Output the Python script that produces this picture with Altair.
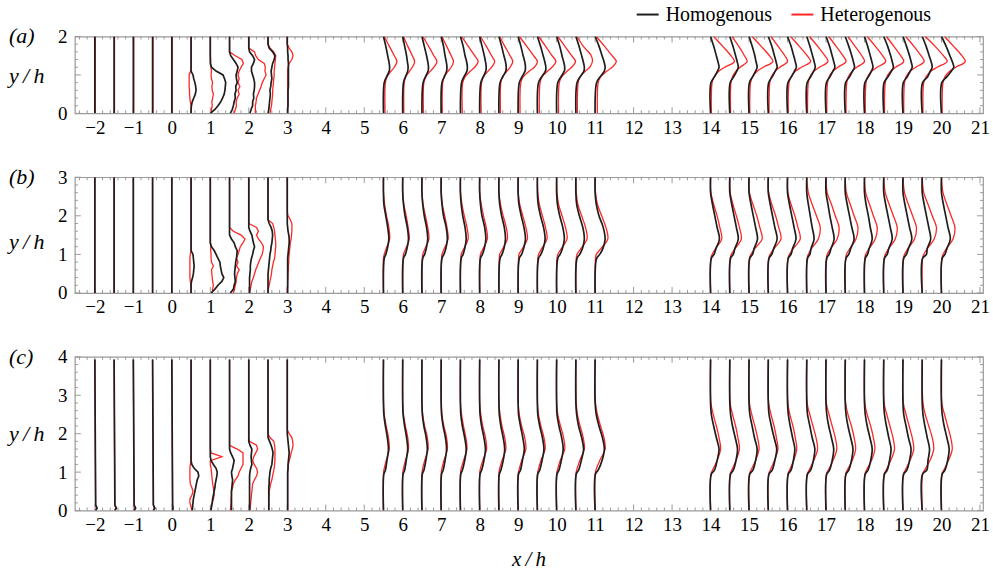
import altair as alt
import pandas as pd

# ---------------- stations (x/h positions of the profiles) ----------------
UP_ST = [-2, -1.5, -1, -0.5, 0]
NEAR_ST = [0.5, 1, 1.5, 2, 2.5, 3]
FAR1_ST = [5.5, 6, 6.5, 7, 7.5, 8, 8.5, 9, 9.5, 10, 10.5, 11]
FAR2_ST = [14, 14.5, 15, 15.5, 16, 16.5, 17, 17.5, 18, 18.5, 19, 19.5, 20]
X_TICK_LABELS = list(range(-2, 22))
SERIES = ["Homogenous", "Heterogenous"]

# ---------------- panel (a): y/h in [0, 2] ----------------
A_UP_Y = [0, 2.0]
A_UP_BLACK = [[0, 0], [0, 0], [0, 0], [0, 0], [0, 0]]
A_UP_RED = [[0.01, 0.01], [0.01, 0.01], [0.01, 0.01], [0.01, 0.01], [0.01, 0.01]]
A_NEAR_Y = [0, 0.1, 0.2, 0.3, 0.4, 0.5, 0.6, 0.7, 0.8, 0.9, 1.0, 1.1, 1.2, 1.3, 1.4, 1.5, 1.6, 1.7, 1.8, 1.9, 2.0]
A_NEAR_BLACK = [
    [0, 0, 0.01, 0.03, 0.07, 0.11, 0.13, 0.12, 0.10, 0.07, 0.05, 0, 0, 0, 0, 0, 0, 0, 0, 0, 0],
    [0, 0.12, 0.2, 0.27, 0.32, 0.36, 0.38, 0.39, 0.40, 0.37, 0.33, 0.15, 0.03, 0, 0, 0, 0, 0, 0, 0, 0],
    [0.02, 0.07, 0.1, 0.12, 0.15, 0.14, 0.17, 0.16, 0.2, 0.18, 0.17, 0.2, 0.22, 0.17, 0.1, 0.03, 0, 0, 0, 0, 0],
    [0.03, 0.06, 0.1, 0.1, 0.13, 0.12, 0.14, 0.15, 0.15, 0.13, 0.1, 0.07, 0.07, 0.12, 0.15, 0.1, 0.02, 0, 0, 0, 0],
    [0, 0.02, 0.03, 0.04, 0.05, 0.06, 0.05, 0.07, 0.08, 0.1, 0.09, 0.08, 0.1, 0.12, 0.16, 0.18, 0.12, 0.03, 0, 0, 0],
    [0.01, 0.01, 0.02, 0.02, 0.02, 0.02, 0.02, 0.03, 0.03, 0.03, 0.03, 0.03, 0.03, 0.03, 0.02, 0.02, 0.01, 0.01, 0, 0, 0],
]
A_NEAR_RED = [
    [0, 0, 0, -0.02, -0.03, -0.04, -0.04, -0.05, -0.05, -0.05, -0.05, -0.01, 0, 0, 0, 0, 0, 0, 0, 0, 0],
    [0.03, 0.03, 0.05, 0.04, 0.06, 0.08, 0.05, 0.04, 0.06, 0.03, 0.02, 0.03, 0.02, 0.01, 0.01, 0, 0, 0, 0, 0, 0],
    [0.12, 0.15, 0.18, 0.17, 0.2, 0.25, 0.22, 0.27, 0.22, 0.25, 0.22, 0.25, 0.3, 0.36, 0.32, 0.15, 0, 0, 0, 0, 0],
    [0.17, 0.17, 0.17, 0.19, 0.2, 0.24, 0.28, 0.32, 0.35, 0.4, 0.45, 0.42, 0.43, 0.4, 0.25, 0.18, 0.15, 0, 0, 0, 0],
    [0.05, 0.07, 0.09, 0.1, 0.11, 0.12, 0.12, 0.13, 0.14, 0.15, 0.16, 0.16, 0.17, 0.18, 0.19, 0.2, 0.15, 0.05, 0, 0, 0],
    [0.01, 0.01, 0.01, 0.01, 0.01, 0.01, 0.01, 0.01, 0.01, 0.01, 0.01, 0.01, 0.02, 0.05, 0.12, 0.15, 0.12, 0.05, 0, 0, 0],
]
A_FAR_Y = [0, 0.8, 0.95, 1.1, 1.2, 1.35, 1.5, 1.75, 2.0]
A_FAR1_BLACK = [
    [0, 0.02, 0.08, 0.15, 0.16, 0.14, 0.11, 0.06, 0],
    [0, 0.02, 0.07, 0.13, 0.14, 0.12, 0.10, 0.05, 0],
    [0, 0.03, 0.09, 0.16, 0.17, 0.15, 0.12, 0.06, 0],
    [0, 0.02, 0.08, 0.14, 0.15, 0.13, 0.10, 0.06, 0],
    [0, 0.03, 0.09, 0.17, 0.18, 0.16, 0.12, 0.07, 0],
    [0, 0.03, 0.09, 0.16, 0.17, 0.15, 0.12, 0.06, 0],
    [0, 0.03, 0.10, 0.18, 0.19, 0.17, 0.13, 0.07, 0],
    [0, 0.03, 0.10, 0.18, 0.19, 0.17, 0.13, 0.07, 0],
    [0, 0.03, 0.11, 0.21, 0.22, 0.19, 0.15, 0.08, 0],
    [0, 0.03, 0.11, 0.20, 0.21, 0.18, 0.14, 0.08, 0],
    [0, 0.03, 0.11, 0.21, 0.22, 0.19, 0.15, 0.08, 0],
    [0, 0.04, 0.13, 0.24, 0.26, 0.23, 0.18, 0.10, 0],
]
A_FAR1_RED = [
    [0.04, 0.05, 0.09, 0.20, 0.28, 0.35, 0.28, 0.15, 0.02],
    [0.03, 0.04, 0.08, 0.18, 0.25, 0.31, 0.25, 0.13, 0.02],
    [0.04, 0.05, 0.10, 0.22, 0.31, 0.39, 0.31, 0.17, 0.02],
    [0.03, 0.04, 0.08, 0.18, 0.26, 0.32, 0.26, 0.14, 0.02],
    [0.05, 0.06, 0.12, 0.26, 0.37, 0.46, 0.37, 0.20, 0.03],
    [0.04, 0.05, 0.10, 0.22, 0.31, 0.39, 0.31, 0.17, 0.02],
    [0.04, 0.05, 0.09, 0.21, 0.29, 0.36, 0.29, 0.15, 0.02],
    [0.05, 0.07, 0.13, 0.29, 0.42, 0.50, 0.40, 0.22, 0.03],
    [0.05, 0.07, 0.12, 0.27, 0.38, 0.48, 0.38, 0.21, 0.03],
    [0.05, 0.07, 0.13, 0.28, 0.39, 0.49, 0.39, 0.21, 0.03],
    [0.04, 0.06, 0.11, 0.25, 0.36, 0.43, 0.40, 0.19, 0.03],
    [0.06, 0.08, 0.14, 0.31, 0.44, 0.55, 0.44, 0.24, 0.03],
]
A_FAR2_BLACK = [
    [0, 0.01, 0.10, 0.18, 0.22, 0.19, 0.15, 0.08, 0],
    [0, 0.01, 0.10, 0.18, 0.22, 0.19, 0.15, 0.08, 0],
    [0, 0.01, 0.09, 0.17, 0.21, 0.18, 0.15, 0.08, 0],
    [0, 0.01, 0.10, 0.18, 0.23, 0.20, 0.16, 0.09, 0],
    [0, 0.01, 0.10, 0.18, 0.23, 0.20, 0.16, 0.09, 0],
    [0, 0.01, 0.10, 0.18, 0.22, 0.19, 0.15, 0.08, 0],
    [0, 0.01, 0.10, 0.18, 0.23, 0.20, 0.16, 0.09, 0],
    [0, 0.01, 0.11, 0.19, 0.24, 0.21, 0.17, 0.09, 0],
    [0, 0.01, 0.10, 0.18, 0.22, 0.19, 0.15, 0.08, 0],
    [0, 0.01, 0.11, 0.20, 0.25, 0.22, 0.18, 0.10, 0],
    [0, 0.01, 0.11, 0.19, 0.24, 0.21, 0.17, 0.09, 0],
    [0, 0.01, 0.14, 0.21, 0.26, 0.23, 0.18, 0.10, 0],
    [0, 0.01, 0.14, 0.26, 0.32, 0.28, 0.22, 0.12, 0],
]
A_FAR2_RED = [
    [0.02, 0.04, 0.09, 0.22, 0.37, 0.62, 0.53, 0.31, 0.08],
    [0.02, 0.03, 0.07, 0.16, 0.27, 0.45, 0.38, 0.23, 0.06],
    [0.02, 0.04, 0.09, 0.22, 0.37, 0.62, 0.53, 0.31, 0.08],
    [0.02, 0.04, 0.08, 0.18, 0.30, 0.50, 0.43, 0.25, 0.07],
    [0.02, 0.04, 0.09, 0.21, 0.36, 0.60, 0.51, 0.30, 0.08],
    [0.02, 0.04, 0.08, 0.19, 0.33, 0.55, 0.47, 0.28, 0.07],
    [0.02, 0.04, 0.08, 0.18, 0.31, 0.52, 0.44, 0.26, 0.07],
    [0.02, 0.04, 0.08, 0.18, 0.30, 0.50, 0.43, 0.25, 0.07],
    [0.02, 0.04, 0.08, 0.19, 0.33, 0.55, 0.47, 0.28, 0.07],
    [0.02, 0.04, 0.08, 0.18, 0.31, 0.52, 0.44, 0.26, 0.07],
    [0.02, 0.04, 0.08, 0.19, 0.33, 0.55, 0.47, 0.28, 0.07],
    [0.02, 0.04, 0.10, 0.23, 0.39, 0.65, 0.55, 0.33, 0.08],
    [0.02, 0.04, 0.09, 0.22, 0.37, 0.62, 0.53, 0.31, 0.08],
]

# ---------------- panel (b): y/h in [0, 3] ----------------
B_UP_Y = [0, 3.0]
B_UP_BLACK = [[0, 0], [0, 0], [0, 0], [0, 0], [0, 0]]
B_UP_RED = [[0.0, 0.0], [0.0, 0.0], [0.0, 0.0], [0.0, 0.0], [0.0, 0.0]]
B_NEAR_Y = [0, 0.1, 0.2, 0.3, 0.4, 0.5, 0.6, 0.7, 0.8, 0.9, 1.0, 1.1, 1.2, 1.3, 1.4, 1.5, 1.6, 1.7, 1.8, 1.9, 2.0, 2.1, 3.0]
B_NEAR_BLACK = [
    [0, 0, 0, 0.01, 0.04, 0.06, 0.07, 0.08, 0.07, 0.06, 0.05, 0, 0, 0, 0, 0, 0, 0, 0, 0, 0, 0, 0],
    [0.02, 0.12, 0.2, 0.3, 0.35, 0.3, 0.28, 0.26, 0.25, 0.2, 0.15, 0.1, 0.03, 0, 0, 0, 0, 0, 0, 0, 0, 0, 0],
    [0.02, 0.1, 0.12, 0.15, 0.14, 0.13, 0.14, 0.15, 0.16, 0.18, 0.19, 0.2, 0.15, 0.12, 0.05, 0, 0, 0, 0, 0, 0, 0, 0],
    [0.02, 0.02, 0.02, 0.02, 0.02, 0.03, 0.04, 0.04, 0.05, 0.07, 0.1, 0.12, 0.15, 0.12, 0.1, 0.08, 0.03, 0, 0, 0, 0, 0, 0],
    [0, 0, 0, 0, 0, 0, 0.01, 0.02, 0.03, 0.04, 0.05, 0.07, 0.08, 0.1, 0.11, 0.12, 0.11, 0.08, 0.03, 0, 0, 0, 0],
    [0.01, 0.01, 0.01, 0.01, 0.01, 0.01, 0.01, 0.01, 0.01, 0.01, 0.02, 0.03, 0.04, 0.05, 0.05, 0.04, 0.02, 0.01, 0, 0, 0, 0, 0],
]
B_NEAR_RED = [
    [0, 0, 0, -0.02, -0.03, -0.03, -0.03, -0.03, -0.03, -0.03, -0.02, 0, 0, 0, 0, 0, 0, 0, 0, 0, 0, 0, 0],
    [0.05, 0.06, 0.08, 0.06, 0.05, 0.04, 0.03, 0.08, 0.03, 0.02, 0.02, 0.01, 0.01, 0, 0, 0, 0, 0, 0, 0, 0, 0, 0],
    [0.1, 0.13, 0.15, 0.17, 0.18, 0.2, 0.25, 0.18, 0.22, 0.18, 0.22, 0.25, 0.28, 0.35, 0.4, 0.3, 0.1, 0, 0, 0, 0, 0, 0],
    [0.02, 0.04, 0.06, 0.08, 0.12, 0.15, 0.18, 0.22, 0.26, 0.3, 0.35, 0.37, 0.38, 0.33, 0.25, 0.2, 0.25, 0.2, 0, 0, 0, 0, 0],
    [0, 0.01, 0.03, 0.05, 0.07, 0.09, 0.1, 0.12, 0.14, 0.17, 0.18, 0.19, 0.2, 0.2, 0.19, 0.18, 0.17, 0.15, 0.12, 0, 0, 0, 0],
    [0, 0, 0.01, 0.01, 0.02, 0.02, 0.03, 0.03, 0.04, 0.04, 0.05, 0.06, 0.07, 0.08, 0.1, 0.11, 0.12, 0.12, 0.12, 0.08, 0.02, 0, 0],
]
B_FAR_Y = [0, 0.9, 1.0, 1.15, 1.4, 1.7, 2.0, 2.3, 2.6, 3.0]
B_FAR1_BLACK = [
    [0, 0.02, 0.06, 0.10, 0.14, 0.11, 0.06, 0.01, 0, 0],
    [0, 0.02, 0.07, 0.11, 0.15, 0.12, 0.06, 0.02, 0, 0],
    [0, 0.02, 0.07, 0.11, 0.15, 0.12, 0.06, 0.02, 0, 0],
    [0, 0.02, 0.07, 0.12, 0.16, 0.13, 0.06, 0.02, 0, 0],
    [0, 0.02, 0.07, 0.11, 0.15, 0.12, 0.06, 0.02, 0, 0],
    [0, 0.02, 0.07, 0.12, 0.16, 0.13, 0.06, 0.02, 0, 0],
    [0, 0.03, 0.08, 0.13, 0.17, 0.14, 0.07, 0.02, 0, 0],
    [0, 0.03, 0.09, 0.14, 0.19, 0.15, 0.08, 0.02, 0, 0],
    [0, 0.03, 0.09, 0.15, 0.20, 0.16, 0.08, 0.02, 0, 0],
    [0, 0.03, 0.09, 0.15, 0.20, 0.16, 0.08, 0.02, 0, 0],
    [0, 0.03, 0.10, 0.17, 0.22, 0.18, 0.09, 0.02, 0, 0],
    [0, 0.04, 0.12, 0.20, 0.26, 0.21, 0.10, 0.03, 0, 0],
]
B_FAR1_RED = [
    [0, 0.0, 0.02, 0.07, 0.16, 0.14, 0.08, 0.03, 0, 0],
    [0, 0.01, 0.02, 0.08, 0.17, 0.14, 0.09, 0.03, 0, 0],
    [0, 0.01, 0.02, 0.08, 0.18, 0.15, 0.09, 0.03, 0, 0],
    [0, 0.01, 0.02, 0.08, 0.18, 0.15, 0.09, 0.03, 0, 0],
    [0, 0.01, 0.02, 0.09, 0.20, 0.17, 0.10, 0.04, 0, 0],
    [0, 0.01, 0.02, 0.09, 0.20, 0.17, 0.10, 0.04, 0, 0],
    [0, 0.01, 0.02, 0.10, 0.22, 0.19, 0.11, 0.04, 0, 0],
    [0, 0.01, 0.02, 0.11, 0.24, 0.20, 0.12, 0.04, 0, 0],
    [0, 0.01, 0.03, 0.11, 0.25, 0.21, 0.13, 0.05, 0.01, 0],
    [0, 0.01, 0.03, 0.12, 0.27, 0.23, 0.14, 0.05, 0.01, 0],
    [0, 0.01, 0.03, 0.13, 0.29, 0.25, 0.15, 0.05, 0.01, 0],
    [0, 0.01, 0.03, 0.15, 0.33, 0.28, 0.17, 0.06, 0.01, 0],
]
B_FAR2_BLACK = [
    [0, 0.02, 0.09, 0.14, 0.23, 0.17, 0.11, 0.05, 0, 0],
    [0, 0.02, 0.09, 0.13, 0.22, 0.17, 0.11, 0.05, 0, 0],
    [0, 0.02, 0.09, 0.13, 0.22, 0.17, 0.11, 0.05, 0, 0],
    [0, 0.02, 0.09, 0.14, 0.23, 0.17, 0.11, 0.05, 0, 0],
    [0, 0.02, 0.09, 0.13, 0.22, 0.17, 0.11, 0.05, 0, 0],
    [0, 0.02, 0.08, 0.11, 0.19, 0.14, 0.09, 0.04, 0, 0],
    [0, 0.02, 0.08, 0.13, 0.21, 0.16, 0.10, 0.05, 0, 0],
    [0, 0.02, 0.09, 0.14, 0.23, 0.17, 0.11, 0.05, 0, 0],
    [0, 0.02, 0.08, 0.12, 0.20, 0.15, 0.10, 0.04, 0, 0],
    [0, 0.02, 0.09, 0.13, 0.22, 0.17, 0.11, 0.05, 0, 0],
    [0, 0.02, 0.09, 0.14, 0.23, 0.17, 0.11, 0.05, 0, 0],
    [0, 0.01, 0.11, 0.13, 0.22, 0.17, 0.11, 0.05, 0, 0],
    [0, 0.02, 0.09, 0.14, 0.23, 0.17, 0.11, 0.05, 0, 0],
]
B_FAR2_RED = [
    [0, 0.01, 0.04, 0.13, 0.29, 0.24, 0.17, 0.08, 0.01, 0],
    [0, 0.01, 0.04, 0.14, 0.30, 0.25, 0.17, 0.08, 0.01, 0],
    [0, 0.01, 0.05, 0.15, 0.34, 0.28, 0.20, 0.10, 0.01, 0],
    [0, 0.01, 0.05, 0.15, 0.33, 0.27, 0.19, 0.09, 0.01, 0],
    [0, 0.01, 0.05, 0.15, 0.33, 0.27, 0.19, 0.09, 0.01, 0],
    [0, 0.01, 0.04, 0.12, 0.30, 0.35, 0.25, 0.14, 0.04, 0],
    [0, 0.01, 0.03, 0.12, 0.29, 0.34, 0.24, 0.14, 0.03, 0],
    [0, 0.01, 0.03, 0.12, 0.28, 0.33, 0.23, 0.13, 0.03, 0],
    [0, 0.01, 0.03, 0.12, 0.28, 0.33, 0.23, 0.13, 0.03, 0],
    [0, 0.01, 0.04, 0.13, 0.30, 0.35, 0.25, 0.14, 0.04, 0],
    [0, 0.01, 0.04, 0.13, 0.30, 0.35, 0.25, 0.14, 0.04, 0],
    [0, 0.01, 0.04, 0.13, 0.31, 0.37, 0.26, 0.15, 0.04, 0],
    [0, 0.01, 0.04, 0.13, 0.30, 0.35, 0.25, 0.14, 0.04, 0],
]

# ---------------- panel (c): y/h in [0, 4] ----------------
C_UP_Y = [0, 0.06, 0.15, 3.93]
C_UP_BLACK = [[0.02, 0.06, 0.02, 0.0], [0.02, 0.06, 0.02, 0.0], [0.02, 0.06, 0.02, 0.0],
              [0.02, 0.06, 0.02, 0.0], [0.02, 0.03, 0.02, 0.0]]
C_UP_RED = [[0.02, 0.04, 0.02, 0.0], [0.02, 0.04, 0.02, 0.0], [0.02, 0.04, 0.02, 0.0],
            [0.02, 0.04, 0.02, 0.0], [0.02, 0.03, 0.02, 0.0]]
C_NEAR_Y = [0, 0.1, 0.2, 0.3, 0.4, 0.5, 0.6, 0.7, 0.8, 0.9, 1.0, 1.1, 1.2, 1.3, 1.4, 1.5, 1.6, 1.7, 1.8, 1.9, 2.0, 2.1, 2.2, 3.93]
C_NEAR_BLACK = [
    [0.03, 0.04, 0.05, 0.06, 0.08, 0.1, 0.12, 0.14, 0.16, 0.2, 0.18, 0.08, 0.02, 0, 0, 0, 0, 0, 0, 0, 0, 0, 0, 0],
    [0.02, 0.03, 0.05, 0.06, 0.08, 0.1, 0.12, 0.13, 0.15, 0.17, 0.18, 0.15, 0.08, 0.02, 0, 0, 0, 0, 0, 0, 0, 0, 0, 0],
    [0.05, 0.05, 0.05, 0.05, 0.05, 0.05, 0.06, 0.07, 0.08, 0.06, 0.05, 0.08, 0.1, 0.12, 0.08, 0.03, 0, 0, 0, 0, 0, 0, 0, 0],
    [0.02, 0.02, 0.02, 0.02, 0.02, 0.02, 0.02, 0.02, 0.02, 0.02, 0.03, 0.05, 0.08, 0.07, 0.06, 0.07, 0.08, 0.03, 0, 0, 0, 0, 0, 0],
    [0.02, 0.02, 0.02, 0.02, 0.02, 0.02, 0.02, 0.03, 0.03, 0.04, 0.05, 0.07, 0.1, 0.11, 0.12, 0.13, 0.11, 0.08, 0.04, 0, 0, 0, 0, 0],
    [0.01, 0.01, 0.01, 0.01, 0.01, 0.01, 0.01, 0.01, 0.01, 0.01, 0.01, 0.02, 0.02, 0.03, 0.04, 0.05, 0.04, 0.03, 0.02, 0.01, 0, 0, 0, 0],
]
C_NEAR_RED = [
    [0.02, 0, -0.03, -0.03, 0.02, 0.05, 0.02, -0.02, -0.03, -0.03, -0.03, -0.03, -0.02, 0, 0, 0, 0, 0, 0, 0, 0, 0, 0, 0],
    [0, 0.03, 0.05, 0.08, 0.1, 0.09, 0.08, 0.06, 0.05, 0.04, 0.03, 0.02, 0, 0, 0.3, 0.02, 0, 0, 0, 0, 0, 0, 0, 0],
    [0.02, 0.03, 0.04, 0.04, 0.05, 0.05, 0.08, 0.1, 0.15, 0.22, 0.25, 0.3, 0.35, 0.35, 0.35, 0.35, 0.2, 0, 0, 0, 0, 0, 0, 0],
    [0.03, 0.04, 0.05, 0.06, 0.07, 0.08, 0.09, 0.1, 0.15, 0.2, 0.23, 0.2, 0.14, 0.1, 0.13, 0.18, 0.23, 0.2, 0.02, 0, 0, 0, 0, 0],
    [0.02, 0.02, 0.02, 0.02, 0.03, 0.03, 0.05, 0.07, 0.1, 0.12, 0.14, 0.16, 0.17, 0.18, 0.18, 0.18, 0.18, 0.17, 0.15, 0.05, 0, 0, 0, 0],
    [0.01, 0.01, 0.01, 0.01, 0.01, 0.01, 0.01, 0.01, 0.01, 0.01, 0.01, 0.02, 0.03, 0.05, 0.08, 0.1, 0.13, 0.15, 0.14, 0.12, 0.05, 0, 0, 0],
]
C_FAR_Y = [0, 0.95, 1.05, 1.3, 1.6, 1.9, 2.2, 2.5, 2.8, 3.93]
C_FAR1_BLACK = [
    [0, 0.01, 0.05, 0.09, 0.13, 0.10, 0.05, 0.01, 0, 0],
    [0, 0.01, 0.05, 0.09, 0.13, 0.10, 0.05, 0.01, 0, 0],
    [0, 0.01, 0.05, 0.10, 0.14, 0.11, 0.05, 0.01, 0, 0],
    [0, 0.01, 0.05, 0.10, 0.14, 0.11, 0.05, 0.01, 0, 0],
    [0, 0.01, 0.05, 0.11, 0.15, 0.11, 0.05, 0.01, 0, 0],
    [0, 0.01, 0.05, 0.11, 0.15, 0.11, 0.05, 0.01, 0, 0],
    [0, 0.01, 0.05, 0.11, 0.15, 0.11, 0.05, 0.01, 0, 0],
    [0, 0.01, 0.06, 0.11, 0.16, 0.12, 0.06, 0.01, 0, 0],
    [0, 0.01, 0.06, 0.12, 0.17, 0.13, 0.06, 0.01, 0, 0],
    [0, 0.01, 0.06, 0.12, 0.17, 0.13, 0.06, 0.01, 0, 0],
    [0, 0.01, 0.07, 0.14, 0.20, 0.15, 0.07, 0.02, 0, 0],
    [0, 0.01, 0.08, 0.18, 0.24, 0.19, 0.10, 0.03, 0, 0],
]
C_FAR1_RED = [
    [0, 0, 0.01, 0.07, 0.15, 0.13, 0.07, 0.02, 0, 0],
    [0, 0, 0.01, 0.07, 0.15, 0.13, 0.07, 0.02, 0, 0],
    [0, 0, 0.01, 0.07, 0.16, 0.14, 0.07, 0.02, 0, 0],
    [0, 0, 0.01, 0.07, 0.16, 0.14, 0.07, 0.02, 0, 0],
    [0, 0, 0.01, 0.08, 0.17, 0.14, 0.08, 0.03, 0, 0],
    [0, 0, 0.01, 0.08, 0.18, 0.15, 0.08, 0.03, 0, 0],
    [0, 0, 0.01, 0.08, 0.18, 0.15, 0.08, 0.03, 0, 0],
    [0, 0, 0.02, 0.09, 0.20, 0.17, 0.09, 0.03, 0, 0],
    [0, 0, 0.02, 0.09, 0.20, 0.17, 0.09, 0.03, 0, 0],
    [0, 0, 0.02, 0.09, 0.21, 0.18, 0.10, 0.03, 0, 0],
    [0, 0, 0.02, 0.10, 0.22, 0.19, 0.11, 0.04, 0.01, 0],
    [0, 0, 0.02, 0.12, 0.26, 0.23, 0.14, 0.06, 0.01, 0],
]
C_FAR2_BLACK = [
    [0, 0.02, 0.10, 0.17, 0.22, 0.15, 0.08, 0.02, 0, 0],
    [0, 0.02, 0.09, 0.16, 0.20, 0.14, 0.07, 0.02, 0, 0],
    [0, 0.02, 0.10, 0.17, 0.21, 0.14, 0.08, 0.02, 0, 0],
    [0, 0.02, 0.10, 0.17, 0.22, 0.15, 0.08, 0.02, 0, 0],
    [0, 0.02, 0.09, 0.15, 0.19, 0.13, 0.07, 0.02, 0, 0],
    [0, 0.02, 0.10, 0.17, 0.21, 0.14, 0.08, 0.02, 0, 0],
    [0, 0.02, 0.09, 0.16, 0.20, 0.14, 0.07, 0.02, 0, 0],
    [0, 0.02, 0.09, 0.16, 0.20, 0.14, 0.07, 0.02, 0, 0],
    [0, 0.02, 0.09, 0.16, 0.20, 0.14, 0.07, 0.02, 0, 0],
    [0, 0.02, 0.09, 0.15, 0.19, 0.13, 0.07, 0.02, 0, 0],
    [0, 0.02, 0.10, 0.17, 0.21, 0.14, 0.08, 0.02, 0, 0],
    [0, 0.01, 0.12, 0.15, 0.19, 0.13, 0.07, 0.02, 0, 0],
    [0, 0.02, 0.09, 0.16, 0.20, 0.14, 0.07, 0.02, 0, 0],
]
C_FAR2_RED = [
    [0, 0.01, 0.05, 0.17, 0.26, 0.22, 0.15, 0.07, 0.01, 0],
    [0, 0.01, 0.05, 0.16, 0.25, 0.21, 0.15, 0.07, 0.01, 0],
    [0, 0.01, 0.05, 0.17, 0.26, 0.22, 0.15, 0.07, 0.01, 0],
    [0, 0.01, 0.05, 0.16, 0.25, 0.21, 0.15, 0.07, 0.01, 0],
    [0, 0.01, 0.05, 0.16, 0.24, 0.20, 0.14, 0.06, 0.01, 0],
    [0, 0.01, 0.06, 0.18, 0.28, 0.24, 0.16, 0.08, 0.01, 0],
    [0, 0.01, 0.06, 0.18, 0.28, 0.24, 0.16, 0.08, 0.01, 0],
    [0, 0.01, 0.05, 0.18, 0.27, 0.23, 0.16, 0.07, 0.01, 0],
    [0, 0.01, 0.05, 0.18, 0.27, 0.23, 0.16, 0.07, 0.01, 0],
    [0, 0.01, 0.06, 0.18, 0.28, 0.24, 0.16, 0.08, 0.01, 0],
    [0, 0.01, 0.06, 0.18, 0.28, 0.24, 0.16, 0.08, 0.01, 0],
    [0, 0.01, 0.06, 0.20, 0.30, 0.26, 0.17, 0.08, 0.02, 0],
    [0, 0.01, 0.06, 0.18, 0.28, 0.24, 0.16, 0.08, 0.01, 0],
]

# ---------------- styling ----------------
FONT = "Liberation Serif"
BLACK = "#1e1e1e"
RED = "#ff2626"
FRAME = "#9a9a9a"
W = 910
X_DOMAIN = [-2.52, 21.08]


def build(stations, ys, rows, tag):
    recs = []
    for st, row in zip(stations, rows):
        for i, (y, off) in enumerate(zip(ys, row)):
            recs.append({"pid": f"{tag}{st}", "i": i, "x": st + off, "y": y})
    return recs


def panel(letter, ymax, H, ylab_y, data, legend=False, xtitle=False):
    up_y, up_k, up_r, near_y, near_k, near_r, far_y, f1k, f1r, f2k, f2r = data
    xs = alt.Scale(domain=X_DOMAIN, nice=False, zero=False)
    ys = alt.Scale(domain=[0, ymax], nice=False, zero=False)
    xaxis = alt.Axis(values=X_TICK_LABELS, title=None, ticks=False, tickSize=0, domain=False,
                     grid=False, labelFont=FONT, labelFontSize=19, labelColor="black",
                     labelPadding=5, labelFlush=False, format="d")
    yaxis = alt.Axis(values=list(range(0, ymax + 1)), title=None, ticks=False, tickSize=0,
                     domain=False, grid=False, labelFont=FONT, labelFontSize=19,
                     labelColor="black", labelPadding=8, format="d")
    X = alt.X("x:Q", scale=xs, axis=xaxis)
    Y = alt.Y("y:Q", scale=ys, axis=yaxis)

    lin_k = pd.DataFrame(build(UP_ST, up_y, up_k, "k") + build(NEAR_ST, near_y, near_k, "k"))
    lin_r = pd.DataFrame(build(UP_ST, up_y, up_r, "r") + build(NEAR_ST, near_y, near_r, "r"))
    far_k = pd.DataFrame(build(FAR1_ST, far_y, f1k, "k") + build(FAR2_ST, far_y, f2k, "k"))
    far_r = pd.DataFrame(build(FAR1_ST, far_y, f1r, "r") + build(FAR2_ST, far_y, f2r, "r"))

    def lines(df, color, width, interp):
        return alt.Chart(df).mark_line(color=color, strokeWidth=width, interpolate=interp,
                                       clip=True).encode(
            x=X, y=Y, detail="pid:N", order="i:Q")

    layers = []
    # inward ticks on all four sides
    x_major = pd.DataFrame({"x": X_TICK_LABELS})
    x_minor = pd.DataFrame({"x": [v / 5 for v in range(-12, 106) if v % 5 != 0]})
    y_major = pd.DataFrame({"y": list(range(0, ymax + 1))})
    y_minor = pd.DataFrame({"y": [v / 5 for v in range(1, ymax * 5) if v % 5 != 0]})
    for df, L in ((x_major, 6), (x_minor, 3)):
        layers.append(alt.Chart(df).mark_rule(color=FRAME, strokeWidth=1).encode(
            x=X, y=alt.value(0), y2=alt.value(L)))
        layers.append(alt.Chart(df).mark_rule(color=FRAME, strokeWidth=1).encode(
            x=X, y=alt.value(H), y2=alt.value(H - L)))
    for df, L in ((y_major, 6), (y_minor, 3)):
        layers.append(alt.Chart(df).mark_rule(color=FRAME, strokeWidth=1).encode(
            y=Y, x=alt.value(0), x2=alt.value(L)))
        layers.append(alt.Chart(df).mark_rule(color=FRAME, strokeWidth=1).encode(
            y=Y, x=alt.value(W), x2=alt.value(W - L)))

    layers += [
        lines(lin_r, RED, 1.3, "linear"),
        lines(far_r, RED, 1.3, "catmull-rom"),
        lines(lin_k, BLACK, 1.7, "linear"),
        lines(far_k, BLACK, 1.7, "catmull-rom"),
    ]

    def txt(s, x, y, size, italic=True, align="left"):
        return alt.Chart(pd.DataFrame({"t": [s]})).mark_text(
            font=FONT, fontSize=size, fontStyle="italic" if italic else "normal",
            align=align, baseline="middle", color="black").encode(
            text="t:N", x=alt.value(x), y=alt.value(y))

    layers.append(txt(f"({letter})", -66, 0, 22))
    layers.append(txt("y\u2009/\u2009h", -66, ylab_y, 22))
    if xtitle:
        layers.append(txt("x\u2009/\u2009h", W / 2, H + 50, 21, align="center"))
    if legend:
        for lx, col, name in ((563, BLACK, SERIES[0]), (718, RED, SERIES[1])):
            layers.append(alt.Chart(pd.DataFrame({"s": [name]})).mark_rule(
                color=col, strokeWidth=2).encode(
                x=alt.value(lx), x2=alt.value(lx + 22), y=alt.value(-22)))
            layers.append(txt(name, lx + 29, -22, 20, italic=False))

    return alt.layer(*layers).properties(width=W, height=H)


pa = panel("a", 2, 77, 40,
           (A_UP_Y, A_UP_BLACK, A_UP_RED, A_NEAR_Y, A_NEAR_BLACK, A_NEAR_RED,
            A_FAR_Y, A_FAR1_BLACK, A_FAR1_RED, A_FAR2_BLACK, A_FAR2_RED), legend=True)
pb = panel("b", 3, 116, 65,
           (B_UP_Y, B_UP_BLACK, B_UP_RED, B_NEAR_Y, B_NEAR_BLACK, B_NEAR_RED,
            B_FAR_Y, B_FAR1_BLACK, B_FAR1_RED, B_FAR2_BLACK, B_FAR2_RED))
pc = panel("c", 4, 154, 77,
           (C_UP_Y, C_UP_BLACK, C_UP_RED, C_NEAR_Y, C_NEAR_BLACK, C_NEAR_RED,
            C_FAR_Y, C_FAR1_BLACK, C_FAR1_RED, C_FAR2_BLACK, C_FAR2_RED), xtitle=True)

chart = alt.vconcat(pa, pb, pc, spacing=64, bounds="flush").properties(
    padding={"left": 8, "top": 3, "right": 2, "bottom": 0},
    background="white",
).configure_view(stroke=FRAME, strokeWidth=1.2).configure_axis(
    labelFont=FONT, labelFontSize=19, labelColor="black"
).configure_text(font=FONT)

chart.save("out.html", embed_options={"renderer": "svg", "actions": False})
